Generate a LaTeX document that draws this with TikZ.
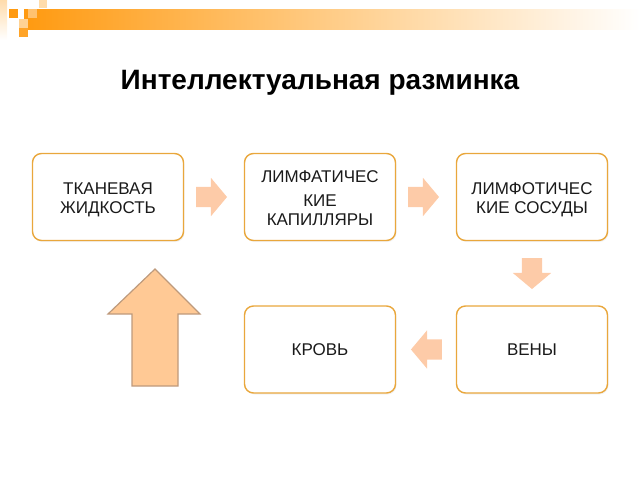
\documentclass[tikz,border=0pt]{standalone}
\usepackage{fontspec}
\setmainfont{Liberation Sans}
\usetikzlibrary{shapes.arrows,calc,shadows}
\definecolor{boxline}{HTML}{E9A73C}
\definecolor{barorange}{HTML}{FF9A10}
\definecolor{peach}{HTML}{FDCBA8}
\definecolor{bigfill}{HTML}{FFC995}
\definecolor{bigline}{HTML}{BE9A7C}
\definecolor{txt}{HTML}{1A1A1A}
\tikzset{
  stagebox/.style={draw=boxline, line width=1.4pt, fill=white, rounded corners=9pt,
    minimum width=151pt, minimum height=87pt,
    drop shadow={shadow xshift=1pt, shadow yshift=-1.5pt, opacity=0.1}},
  boxtext/.style={align=center, text=txt, inner sep=0pt,
    font=\fontsize{17}{19}\selectfont},
  flowarrow/.style={single arrow, fill=peach, draw=none, inner xsep=0pt, inner ysep=10pt,
    minimum height=31pt, single arrow head extend=9pt,
    single arrow tip angle=100, anchor=tip},
  sq/.style={fill=#1, draw=none}
}
\begin{document}
\begin{tikzpicture}[x=1pt,y=-1pt]
\useasboundingbox (0,0) rectangle (640,480);
% header bar
\shade[left color=barorange, right color=white] (24,9) rectangle (640,29);
\shade[top color=barorange!35, bottom color=white] (0,0) rectangle (7,40);
\fill[sq=barorange] (9,9) rectangle (18,18);
\fill[sq=barorange!45] (19,19) rectangle (28,28);
\fill[sq=barorange!90] (19,28) rectangle (28,37);
\fill[sq=barorange!60] (28,9) rectangle (37,18);
\fill[sq=barorange!35] (39,0) rectangle (47,8);
% title
\node[font=\fontsize{28}{32}\selectfont\bfseries, text=black] (title) at (320,83) {Интеллектуальная разминка};
% boxes
\node[stagebox] (b1) at (108,197) {};
\node[stagebox] (b2) at (320,197) {};
\node[stagebox] (b3) at (532,197) {};
\node[stagebox] (b4) at (320,349.5) {};
\node[stagebox] (b5) at (532,349.5) {};
\node[boxtext] (t1) at ([yshift=-3pt]b1.center) {ТКАНЕВАЯ\\ЖИДКОСТЬ};
\node[boxtext] (t2) at ([yshift=-1.5pt]b2.center) {ЛИМФАТИЧЕС\\[5pt]КИЕ\\КАПИЛЛЯРЫ};
\node[boxtext] (t3) at ([yshift=-3pt]b3.center) {ЛИМФОТИЧЕС\\КИЕ СОСУДЫ};
\node[boxtext] (t4) at (b4.center) {КРОВЬ};
\node[boxtext] (t5) at (b5.center) {ВЕНЫ};
% flow arrows
\node[flowarrow] (a12) at ([xshift=-16.5pt]b2.west) {};
\node[flowarrow] (a23) at ([xshift=-16.5pt]b3.west) {};
\node[flowarrow, rotate=-90] (a35) at ([yshift=16pt]b5.north) {};
\node[flowarrow, rotate=180] (a54) at ([xshift=14.5pt]b4.east) {};
% big up arrow
\draw[fill=bigfill, draw=bigline, line width=1.2pt, line join=miter]
  (155,269) -- (200,314) -- (178,314) -- (178,386) -- (132,386) -- (132,314) -- (108,314) -- cycle;
\end{tikzpicture}
\end{document}
